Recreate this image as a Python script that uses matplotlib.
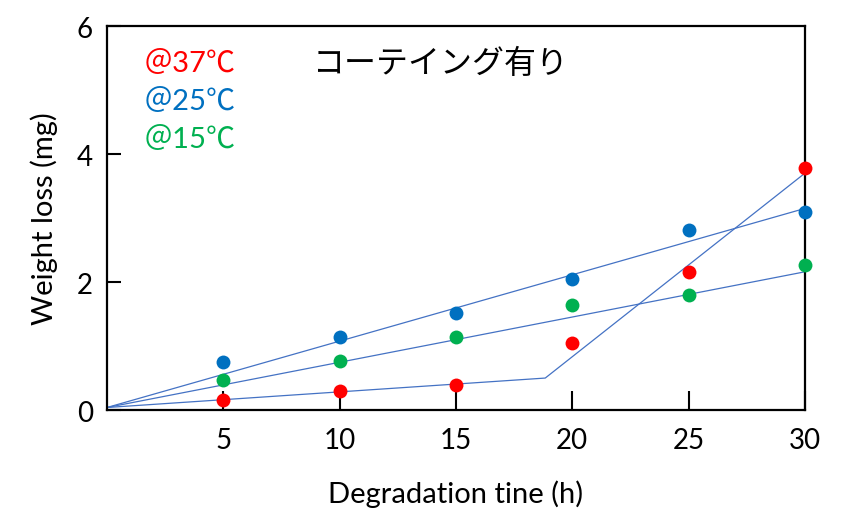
import matplotlib
matplotlib.use("Agg")
import matplotlib.pyplot as plt

# measured data (weight loss in mg)
hours = [5, 10, 15, 20, 25, 30]
loss_37 = [0.16, 0.30, 0.39, 1.04, 2.15, 3.78]
loss_25 = [0.75, 1.14, 1.52, 2.05, 2.81, 3.10]
loss_15 = [0.47, 0.77, 1.14, 1.64, 1.79, 2.27]

# fitted trend lines
fit_37_x = [0, 18.84, 30]
fit_37_y = [0.04, 0.50, 3.70]
fit_25_x = [0, 30]
fit_25_y = [0.04, 3.15]
fit_15_x = [0, 30]
fit_15_y = [0.04, 2.16]

legend_labels = ["＠37℃", "＠25℃", "＠15℃"]
colors = ["#FF0000", "#0070C0", "#00B050"]
title_text = "コーテイング有り"

plt.rcParams['font.family'] = ['Lato', 'Noto Sans CJK JP', 'DejaVu Sans']

fig = plt.figure(figsize=(8.49, 5.10), dpi=100)
ax = fig.add_axes([0.126, 0.194, 0.822, 0.753])

line_color = "#4472C4"
for fx, fy in [(fit_37_x, fit_37_y), (fit_25_x, fit_25_y), (fit_15_x, fit_15_y)]:
    ax.plot(fx, fy, color=line_color, lw=0.9, zorder=2)

for vals, c in zip([loss_37, loss_25, loss_15], colors):
    ax.plot(hours, vals, 'o', color=c, ms=10, mec='none', zorder=3, clip_on=False)

ax.set_xlim(0, 30)
ax.set_ylim(0, 6)
ax.set_xticks(hours)
ax.set_yticks([0, 2, 4, 6])
ax.tick_params(axis='x', direction='in', length=14, width=1.5, pad=12, labelsize=20)
ax.tick_params(axis='y', direction='in', length=10, width=1.5, pad=10, labelsize=20)
for s in ax.spines.values():
    s.set_linewidth(1.6)

ax.set_xlabel("Degradation tine (h)", fontsize=21, labelpad=19)
ax.set_ylabel("Weight loss (mg)", fontsize=21, labelpad=14)

for i, (lab, c) in enumerate(zip(legend_labels, colors)):
    ax.text(0.053, 0.905 - i * 0.099, lab, color=c, fontsize=21,
            transform=ax.transAxes, va='center', ha='left')

ax.text(0.295, 0.905, title_text, fontsize=23, transform=ax.transAxes,
        va='center', ha='left', family=['Noto Sans CJK JP'])

fig.savefig("out.png", dpi=100)
